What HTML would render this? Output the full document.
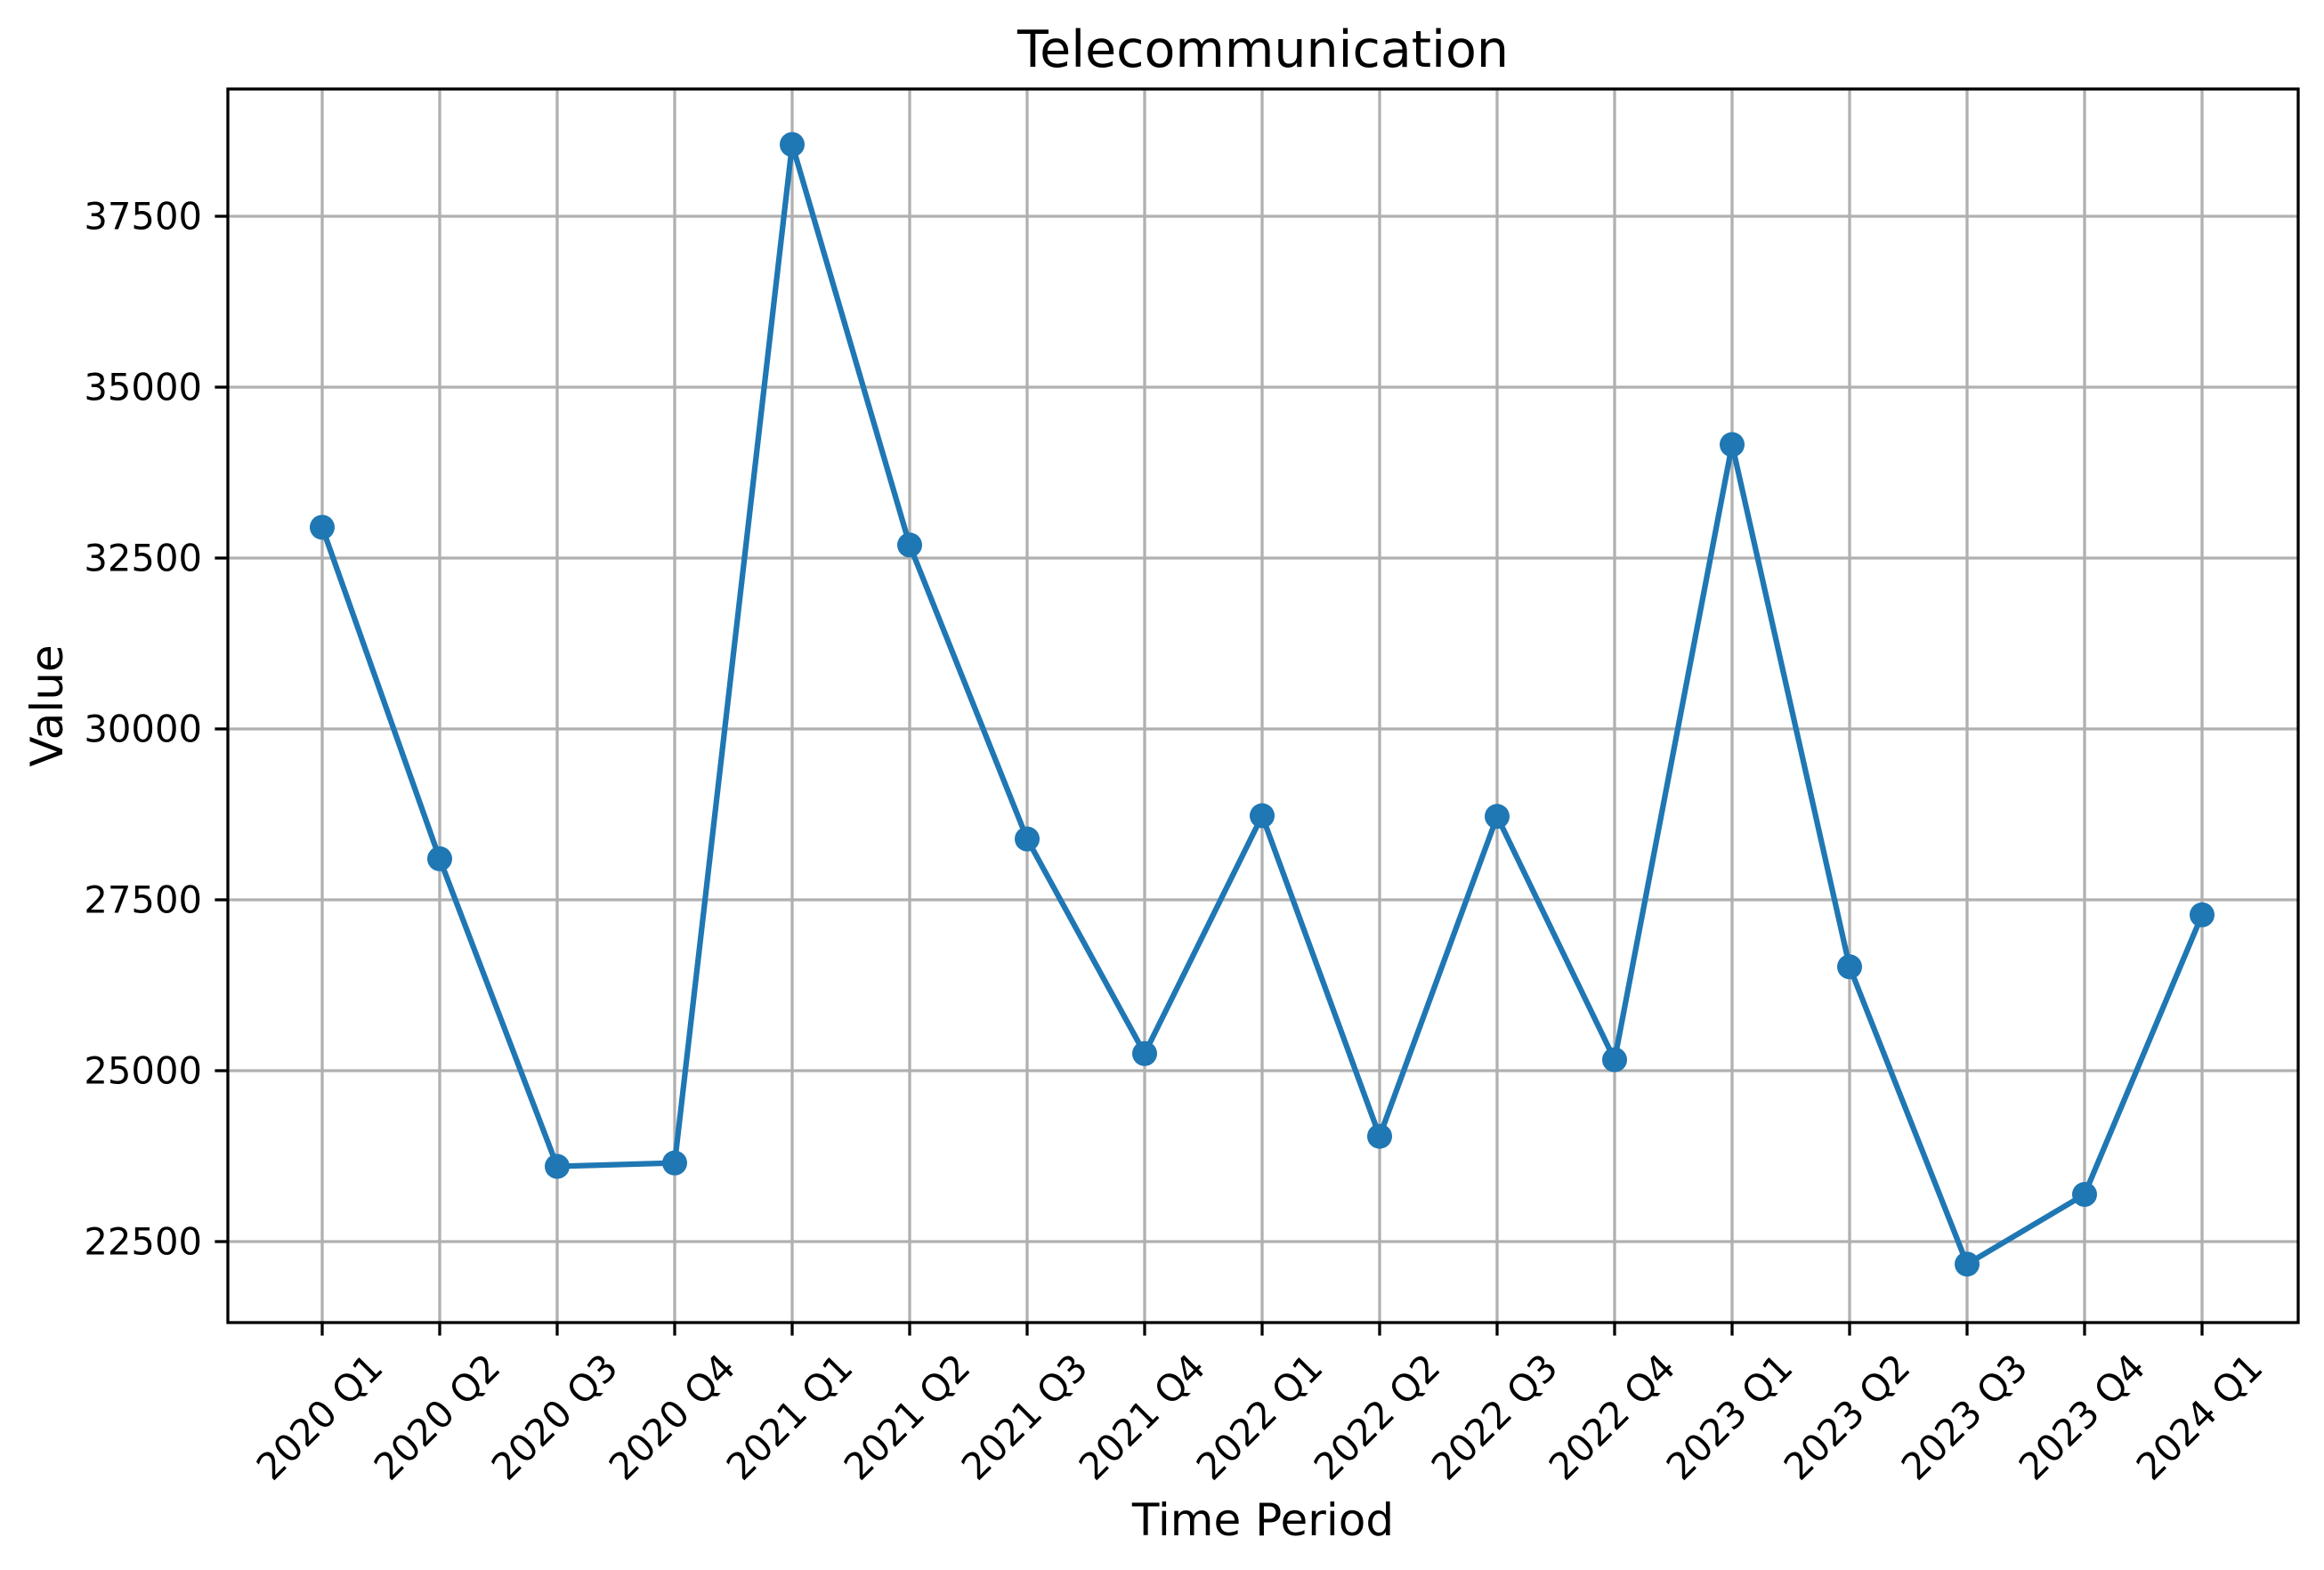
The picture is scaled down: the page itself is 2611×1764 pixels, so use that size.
<!DOCTYPE html>
<html><head><meta charset="utf-8"><style>html,body{margin:0;padding:0;background:#fff}svg{display:block}text{font-family:"DejaVu Sans","Liberation Sans",sans-serif;fill:#000}</style></head>
<body>
<svg id="chart" width="2611" height="1764" viewBox="0 0 2611 1764" xmlns="http://www.w3.org/2000/svg">
<rect width="2611" height="1764" fill="#fff"/>
<g id="grid"></g>
<g id="series"></g>
<g id="axes"></g>
<text x="1419" y="75" text-anchor="middle" font-size="57">Telecommunication</text>
<text x="1419" y="1725" text-anchor="middle" font-size="50">Time Period</text>
<text transform="translate(70,793) rotate(-90)" text-anchor="middle" font-size="50">Value</text>
</svg>
<script>
const categories = ["2020 Q1","2020 Q2","2020 Q3","2020 Q4","2021 Q1","2021 Q2","2021 Q3","2021 Q4","2022 Q1","2022 Q2","2022 Q3","2022 Q4","2023 Q1","2023 Q2","2023 Q3","2023 Q4","2024 Q1"];
const values = [32950,28100,23600,23650,38550,32690,28390,25250,28730,24040,28720,25160,34160,26520,22170,23190,27280];
const yTicks = [22500,25000,27500,30000,32500,35000,37500];

const NS = "http://www.w3.org/2000/svg";
const L = 256, R = 2582, T = 100, B = 1486;
const x0 = 362, dx = 132.0;
function xPos(i){ return x0 + i*dx; }
function yPos(v){ return 243 + (37500 - v) * 192 / 2500; }
function mk(tag, attrs, parent){ const e = document.createElementNS(NS, tag); for (const k in attrs) e.setAttribute(k, attrs[k]); parent.appendChild(e); return e; }

const grid = document.getElementById('grid');
const axes = document.getElementById('axes');
const series = document.getElementById('series');

categories.forEach((c, i) => {
  const x = xPos(i);
  const g = mk('line', {x1:x, x2:x, y1:T, y2:B, stroke:'#b0b0b0', 'stroke-width':3.3}, grid);
  
  
  const t = mk('line', {x1:x, x2:x, y1:B, y2:B+14.6, stroke:'#000', 'stroke-width':3.3}, axes);
  
  
  const lb = mk('text', {transform:`translate(${x-3},1592) rotate(-45)`, 'text-anchor':'middle', 'dominant-baseline':'central', 'font-size':41.7}, axes);
  lb.textContent = c;
  
  
});

yTicks.forEach(v => {
  const y = yPos(v);
  const g = mk('line', {x1:L, x2:R, y1:y, y2:y, stroke:'#b0b0b0', 'stroke-width':3.3}, grid);
  
  
  const t = mk('line', {x1:L-14.6, x2:L, y1:y, y2:y, stroke:'#000', 'stroke-width':3.3}, axes);
  
  
  const lb = mk('text', {x:227, y:y, 'text-anchor':'end', 'dominant-baseline':'central', 'font-size':41.7}, axes);
  lb.textContent = String(v);
  
  
});

const frame = mk('rect', {x:L, y:T, width:R-L, height:B-T, fill:'none', stroke:'#000', 'stroke-width':3.3}, axes);



const pts = values.map((v, i) => xPos(i) + ',' + yPos(v)).join(' ');
const pl = mk('polyline', {points:pts, fill:'none', stroke:'#1f77b4', 'stroke-width':6.25, 'stroke-linejoin':'round', 'stroke-linecap':'round'}, series);


values.forEach((v, i) => {
  const c = mk('circle', {cx:xPos(i), cy:yPos(v), r:14, fill:'#1f77b4'}, series);
  
  
});
</script>
</body></html>
